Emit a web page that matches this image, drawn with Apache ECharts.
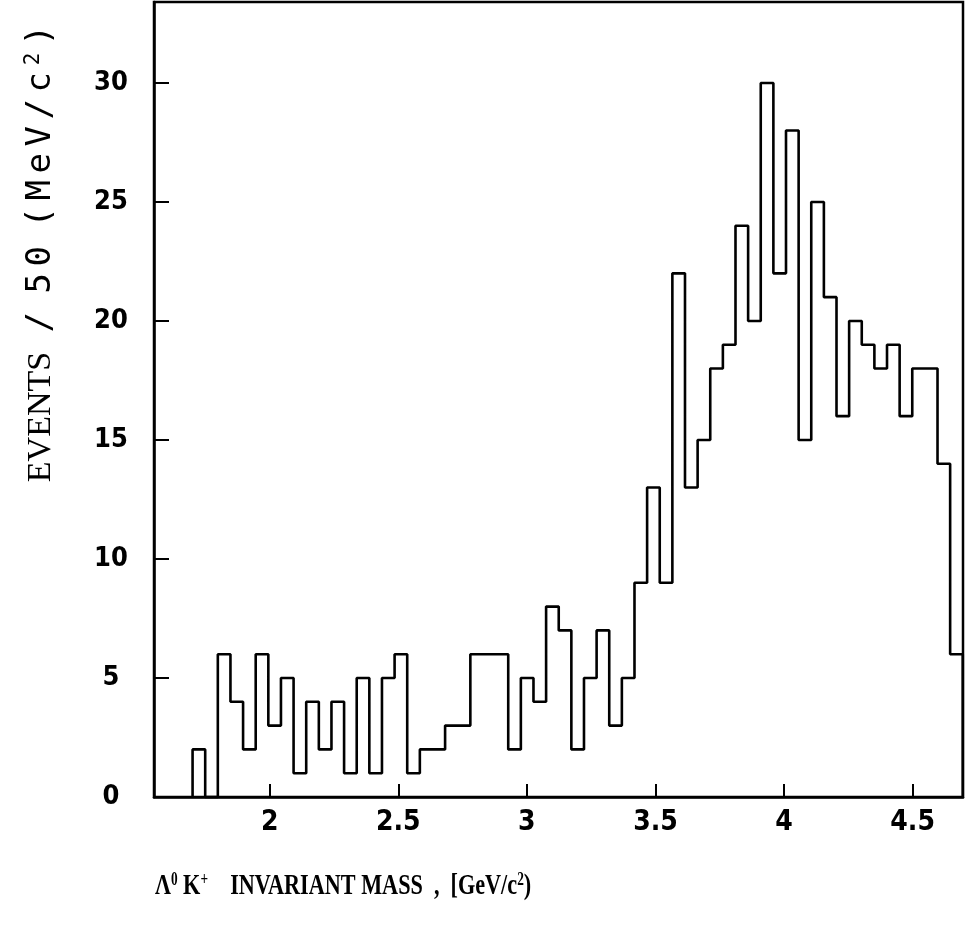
<!DOCTYPE html>
<html>
<head>
<meta charset="utf-8">
<script src="https://cdn.jsdelivr.net/npm/echarts@6/dist/echarts.min.js"></script>
<style>
html,body{margin:0;padding:0;background:#fff;}
#chart{width:970px;height:934px;}
</style>
</head>
<body>
<div id="chart"></div>
<script>
// ---- data ----
// Λ0 K+ invariant mass histogram, events per bin
const firstBinLow = 1.70;      // GeV/c^2, lower edge of first drawn bin
const binWidth = 0.0491;       // bin width as drawn against the axis scale
const events = [2,0,6,4,2,6,3,5,1,4, 2,4,1,5,1,5,6,1,2,2, 3,3,6,6,6,2,5,4,8,7,
                2,5,7,3,5,9,13,9,22,13, 15,18,19,24,20,30,22,28,15,25,
                21,16,20,19,18,19,16,18,18,14, 6];
const xTickValues = [2, 2.5, 3, 3.5, 4, 4.5];
const yTickValues = [0, 5, 10, 15, 20, 25, 30];
const xRange = [1.55, 4.696];
const yRange = [0, 33.4];
const yTitleLead = 'EVENTS';
const yTitleRest = ' / 50 (MeV/c';
const xTitleMain = 'INVARIANT MASS  ,  [GeV/c';

// build step outline points from bins
const pts = [[firstBinLow, 0]];
events.forEach((v, i) => pts.push([firstBinLow + i * binWidth, v]));
const lastEdge = firstBinLow + events.length * binWidth;
pts.push([lastEdge, events[events.length - 1]]);
pts.push([lastEdge, 0]);

const chart = echarts.init(document.getElementById('chart'), null, {renderer: 'canvas'});
const narrow = "'Liberation Sans Narrow', 'DejaVu Sans Condensed', 'Liberation Sans', sans-serif";
const mono = "'DejaVu Sans Mono', 'Liberation Mono', monospace";
const serif = "'Liberation Serif', 'DejaVu Serif', serif";

// y title: mono part set as evenly spaced character cells
let yTitle = '{e|' + yTitleLead + '}';
for (const ch of yTitleRest) yTitle += (ch === ' ' ? '{sp| }' : '{m|' + ch + '}');
yTitle += '{s|2}{m|)}';

chart.setOption({
  animation: false,
  backgroundColor: '#ffffff',
  grid: {left: 154, right: 7, top: 2, bottom: 137, show: true, borderColor: '#000', borderWidth: 2.5, backgroundColor: 'transparent'},
  xAxis: {
    type: 'value', min: xRange[0], max: xRange[1],
    splitLine: {show: false},
    axisLine: {show: true, onZero: false, lineStyle: {color: '#000', width: 2.5}},
    axisTick: {show: true, inside: true, length: 13, customValues: xTickValues, lineStyle: {color: '#000', width: 2}},
    axisLabel: {customValues: xTickValues, margin: 12, color: '#000', fontFamily: narrow, fontWeight: 'bold', fontSize: 28}
  },
  yAxis: {
    type: 'value', min: yRange[0], max: yRange[1],
    splitLine: {show: false},
    axisLine: {show: true, lineStyle: {color: '#000', width: 2.5}},
    axisTick: {show: true, inside: true, length: 15, customValues: yTickValues, lineStyle: {color: '#000', width: 2}},
    axisLabel: {customValues: yTickValues, margin: 43, align: 'center', color: '#000', fontFamily: narrow, fontWeight: 'bold', fontSize: 27}
  },
  series: [{
    type: 'line', step: 'end', data: pts, symbol: 'none', clip: false,
    lineStyle: {color: '#000', width: 2.6}
  }],
  graphic: [
    {
      type: 'text', x: 41, y: 252, rotation: Math.PI / 2,
      style: {
        text: yTitle,
        align: 'center', verticalAlign: 'middle',
        rich: {
          e: {fontFamily: serif, fontSize: 34, fill: '#000', padding: [0, 4, 0, 0]},
          m: {fontFamily: mono, fontSize: 34, fill: '#000', width: 27, align: 'center'},
          sp: {fontFamily: mono, fontSize: 34, fill: '#000', width: 12, align: 'center'},
          s: {fontFamily: mono, fontSize: 21, fill: '#000', width: 20, align: 'center', verticalAlign: 'top', padding: [0, 0, 14, 0]}
        }
      }
    },
    {
      type: 'text', x: 155, y: 886, scaleX: 0.74, scaleY: 1,
      style: {
        text: '{a|Λ}{s|0}{a| K}{s|+}{a|    ' + xTitleMain + '}{s|2}{a|)}',
        align: 'left', verticalAlign: 'middle',
        rich: {
          a: {fontFamily: serif, fontWeight: 'bold', fontSize: 30, fill: '#000'},
          s: {fontFamily: serif, fontWeight: 'bold', fontSize: 18, fill: '#000', verticalAlign: 'top', padding: [0, 0, 12, 0]}
        }
      }
    }
  ]
});
</script>
</body>
</html>
